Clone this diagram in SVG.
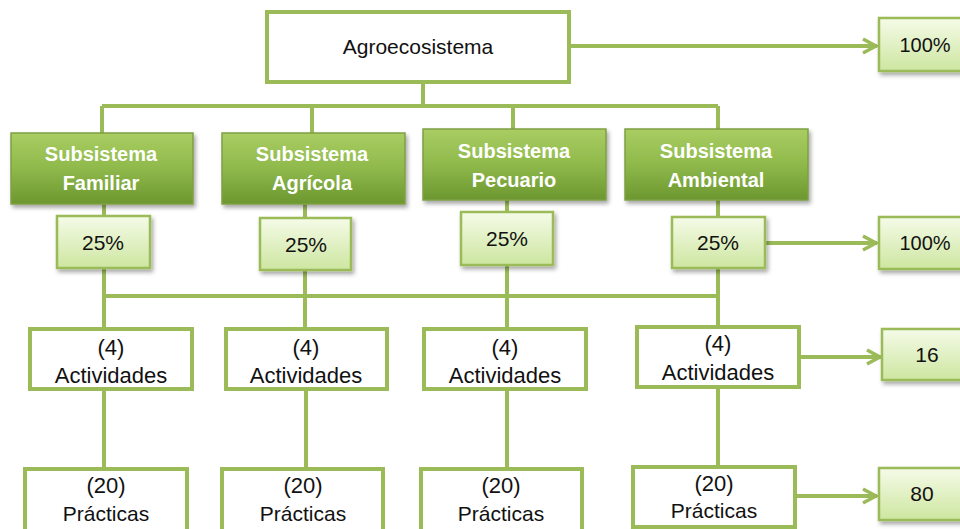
<svg xmlns="http://www.w3.org/2000/svg" width="960" height="529" viewBox="0 0 960 529">
<defs>
<style>
.c{stroke:#9BBB59;stroke-width:4;fill:none}
.w{fill:#ffffff;stroke:#9BBB59;stroke-width:4}
.lg{fill:url(#gl);stroke:#9BBB59;stroke-width:2.5;filter:url(#sh)}
.dg{fill:url(#gd);stroke:#7f9f45;stroke-width:1.5;filter:url(#sh)}
.t{font-family:"Liberation Sans",Arial,sans-serif;font-size:20px;fill:#111;text-anchor:middle}
.n{font-size:22px}
.a{font-size:22px}
.p{font-size:21px}
.tb{font-family:"Liberation Sans",Arial,sans-serif;font-size:20px;font-weight:bold;fill:#ffffff;text-anchor:middle}
</style>
<linearGradient id="gl" x1="0" y1="0" x2="0" y2="1">
<stop offset="0" stop-color="#f5fbe8"/>
<stop offset="1" stop-color="#cde6a0"/>
</linearGradient>
<linearGradient id="gd" x1="0" y1="0" x2="0" y2="1">
<stop offset="0" stop-color="#a9cd62"/>
<stop offset="0.5" stop-color="#8fb94b"/>
<stop offset="1" stop-color="#6c972f"/>
</linearGradient>
<filter id="sh" x="-10%" y="-10%" width="130%" height="140%">
<feDropShadow dx="2" dy="3" stdDeviation="2" flood-color="#000" flood-opacity="0.35"/>
</filter>
<marker id="ah" markerUnits="userSpaceOnUse" markerWidth="20" markerHeight="20" viewBox="0 0 20 20" refX="17" refY="10" orient="auto">
<path d="M3,3 L16,10 L3,17" fill="none" stroke="#9BBB59" stroke-width="3.5"/>
</marker>
</defs>
<rect width="960" height="529" fill="#ffffff"/>
<g id="connectors">
<path class="c" d="M423,82 V106 M102,106 H718 M102,106 V133 M312,106 V133 M513,106 V129 M718,106 V129"/>
<path class="c" d="M104,204 V216 M305,204 V218 M507,200 V212 M718,200 V217"/>
<path class="c" d="M104,268 V329 M305,270 V329 M507,265 V329 M718,268 V327 M104,296 H718"/>
<path class="c" d="M104,389 V469 M306,389 V469 M507,389 V469 M718,387 V467"/>
<path class="c" d="M570,46 H877" marker-end="url(#ah)"/>
<path class="c" d="M765,243 H877" marker-end="url(#ah)"/>
<path class="c" d="M800,357 H881" marker-end="url(#ah)"/>
<path class="c" d="M795,496 H877" marker-end="url(#ah)"/>
</g>
<g id="agroecosistema">
<rect class="w" x="267" y="12" width="302" height="70"/>
<text class="t" x="418" y="54" style="font-size:21px">Agroecosistema</text>
</g>
<g id="total-100">
<rect class="lg" x="879" y="18" width="90" height="53"/>
<text class="t" x="925" y="52">100%</text>
</g>
<g id="sub-familiar">
<rect class="dg" x="11" y="133" width="182" height="71"/>
<text class="tb" x="101" y="161">Subsistema</text>
<text class="tb" x="101" y="190">Familiar</text>
</g>
<g id="sub-agricola">
<rect class="dg" x="222" y="133" width="183" height="71"/>
<text class="tb" x="312" y="161">Subsistema</text>
<text class="tb" x="312" y="190">Agrícola</text>
</g>
<g id="sub-pecuario">
<rect class="dg" x="423" y="129" width="183" height="71"/>
<text class="tb" x="514" y="158">Subsistema</text>
<text class="tb" x="514" y="187">Pecuario</text>
</g>
<g id="sub-ambiental">
<rect class="dg" x="625" y="129" width="183" height="71"/>
<text class="tb" x="716" y="158">Subsistema</text>
<text class="tb" x="716" y="187">Ambiental</text>
</g>
<g id="pct-familiar">
<rect class="lg" x="57" y="216" width="93" height="52"/>
<text class="t" x="103" y="250" style="font-size:21px">25%</text>
</g>
<g id="pct-agricola">
<rect class="lg" x="260" y="218" width="91" height="52"/>
<text class="t" x="306" y="252" style="font-size:21px">25%</text>
</g>
<g id="pct-pecuario">
<rect class="lg" x="461" y="212" width="92" height="53"/>
<text class="t" x="507" y="246" style="font-size:21px">25%</text>
</g>
<g id="pct-ambiental">
<rect class="lg" x="672" y="217" width="93" height="51"/>
<text class="t" x="718" y="250" style="font-size:21px">25%</text>
</g>
<g id="sum-100">
<rect class="lg" x="879" y="217" width="90" height="52"/>
<text class="t" x="925" y="250">100%</text>
</g>
<g id="act-familiar">
<rect class="w" x="30" y="329" width="162" height="60"/>
<text class="t n" x="111" y="355">(4)</text>
<text class="t a" x="111" y="383">Actividades</text>
</g>
<g id="act-agricola">
<rect class="w" x="226" y="329" width="161" height="60"/>
<text class="t n" x="306" y="355">(4)</text>
<text class="t a" x="306" y="383">Actividades</text>
</g>
<g id="act-pecuario">
<rect class="w" x="424" y="329" width="162" height="60"/>
<text class="t n" x="505" y="355">(4)</text>
<text class="t a" x="505" y="383">Actividades</text>
</g>
<g id="act-ambiental">
<rect class="w" x="637" y="327" width="162" height="60"/>
<text class="t n" x="718" y="351">(4)</text>
<text class="t a" x="718" y="380">Actividades</text>
</g>
<g id="total-16">
<rect class="lg" x="882" y="329" width="90" height="51"/>
<text class="t" x="927" y="362" style="font-size:21px">16</text>
</g>
<g id="prac-familiar">
<rect class="w" x="25" y="469" width="162" height="70"/>
<text class="t n" x="106" y="493">(20)</text>
<text class="t p" x="106" y="521">Prácticas</text>
</g>
<g id="prac-agricola">
<rect class="w" x="222" y="469" width="161" height="70"/>
<text class="t n" x="303" y="493">(20)</text>
<text class="t p" x="303" y="521">Prácticas</text>
</g>
<g id="prac-pecuario">
<rect class="w" x="421" y="469" width="161" height="70"/>
<text class="t n" x="501" y="493">(20)</text>
<text class="t p" x="501" y="521">Prácticas</text>
</g>
<g id="prac-ambiental">
<rect class="w" x="633" y="467" width="162" height="60"/>
<text class="t n" x="714" y="491">(20)</text>
<text class="t p" x="714" y="518">Prácticas</text>
</g>
<g id="total-80">
<rect class="lg" x="879" y="468" width="90" height="52"/>
<text class="t" x="922" y="501" style="font-size:21px">80</text>
</g>
</svg>
